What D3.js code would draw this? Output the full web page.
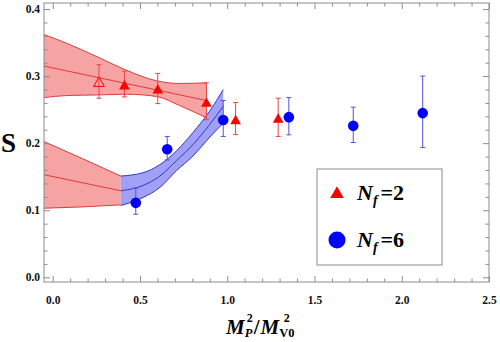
<!DOCTYPE html>
<html>
<head>
<meta charset="utf-8">
<script src="https://cdn.jsdelivr.net/npm/d3@7"></script>
<style>
  body { margin: 0; background: #fff; }
  svg text { font-family: "Liberation Serif", "DejaVu Serif", serif; }
</style>
</head>
<body>
<svg id="chart"></svg>
<script>
const width = 500;
const height = 342;

// lattice points: x = M_P^2/M_V0^2, s = S, lo/hi = error bar ends
const nf2X  = [0.265, 0.411, 0.602, 0.881, 1.048, 1.292];
const nf2S  = [0.290, 0.2855, 0.2795, 0.2595, 0.2337, 0.236];
const nf2Lo = [0.267, 0.269, 0.259, 0.235, 0.2128, 0.210];
const nf2Hi = [0.317, 0.3075, 0.304, 0.290, 0.2606, 0.267];
const nf2Open = [true, false, false, false, false, false];

const nf6X  = [0.476, 0.656, 0.977, 1.353, 1.722, 2.12];
const nf6S  = [0.111, 0.191, 0.2345, 0.2388, 0.2258, 0.2448];
const nf6Lo = [0.094, 0.175, 0.210, 0.2124, 0.201, 0.1934];
const nf6Hi = [0.133, 0.210, 0.2636, 0.268, 0.2537, 0.300];

// fit bands (Nf=2 fit, its extrapolation, Nf=6 fit)
const fit2X   = [-0.05, 0.08, 0.27, 0.42, 0.595, 0.728, 0.88];
const fit2Hi  = [0.362, 0.349, 0.327, 0.309, 0.293, 0.289, 0.290];
const fit2Mid = [0.315, 0.3078, 0.2973, 0.289, 0.2794, 0.272, 0.2636];
const fit2Lo  = [0.268, 0.271, 0.272, 0.273, 0.2696, 0.256, 0.238];

const ext2X   = [-0.05, 0.17, 0.39];
const ext2Hi  = [0.2024, 0.177, 0.151];
const ext2Mid = [0.153, 0.141, 0.129];
const ext2Lo  = [0.103, 0.105, 0.108];

const fit6X   = [0.39, 0.518, 0.614, 0.709, 0.804, 0.900, 0.977];
const fit6Hi  = [0.151, 0.156, 0.168, 0.1885, 0.216, 0.248, 0.280];
const fit6Mid = [0.129, 0.137, 0.151, 0.174, 0.198, 0.228, 0.255];
const fit6Lo  = [0.107, 0.119, 0.134, 0.159, 0.181, 0.209, 0.230];

const xMajor = [0, 0.5, 1.0, 1.5, 2.0, 2.5];
const yMajor = [0, 0.1, 0.2, 0.3, 0.4];

const plot = { left: 44, right: 489, top: 3, bottom: 282 };

const svg = d3.select('#chart').attr('width', width).attr('height', height);

const x = d3.scaleLinear().domain([-0.05, 2.5]).range([plot.left, plot.right]);
const y = d3.scaleLinear().domain([-0.007, 0.409]).range([plot.bottom, plot.top]);

const xMinor = d3.range(0, 2.501, 0.1).filter(v => !xMajor.some(m => Math.abs(m - v) < 1e-6));
const yMinor = d3.range(0, 0.4001, 0.02).filter(v => !yMajor.some(m => Math.abs(m - v) < 1e-6));

svg.append('clipPath').attr('id', 'clip')
  .append('rect')
  .attr('x', plot.left).attr('y', plot.top)
  .attr('width', plot.right - plot.left).attr('height', plot.bottom - plot.top);

const g = svg.append('g').attr('clip-path', 'url(#clip)');

// bands
function band(xs, lo, mid, hi, fill, stroke) {
  const pts = xs.map((v, i) => ({ x: v, lo: lo[i], mid: mid[i], hi: hi[i] }));
  const curve = d3.curveMonotoneX;
  g.append('path').datum(pts)
    .attr('d', d3.area().x(d => x(d.x)).y0(d => y(d.lo)).y1(d => y(d.hi)).curve(curve))
    .attr('fill', fill).attr('stroke', 'none');
  ['lo', 'mid', 'hi'].forEach(k => {
    g.append('path').datum(pts)
      .attr('d', d3.line().x(d => x(d.x)).y(d => y(d[k])).curve(curve))
      .attr('fill', 'none').attr('stroke', stroke).attr('stroke-width', 1);
  });
}

band(fit2X, fit2Lo, fit2Mid, fit2Hi, '#f5a3a3', '#e03a3a');
band(ext2X, ext2Lo, ext2Mid, ext2Hi, '#f5a3a3', '#e03a3a');
band(fit6X, fit6Lo, fit6Mid, fit6Hi, '#a0a0f5', '#3535c8');

// error bars
function errorBars(xs, lo, hi, color) {
  const eb = g.append('g').attr('stroke', color).attr('stroke-width', 1).attr('fill', 'none');
  xs.forEach((v, i) => {
    const cx = x(v);
    eb.append('line').attr('x1', cx).attr('x2', cx).attr('y1', y(lo[i])).attr('y2', y(hi[i]));
    eb.append('line').attr('x1', cx - 2.5).attr('x2', cx + 2.5).attr('y1', y(lo[i])).attr('y2', y(lo[i]));
    eb.append('line').attr('x1', cx - 2.5).attr('x2', cx + 2.5).attr('y1', y(hi[i])).attr('y2', y(hi[i]));
  });
}

errorBars(nf2X, nf2Lo, nf2Hi, '#e84444');
errorBars(nf6X, nf6Lo, nf6Hi, '#5252e0');

const tri = d3.symbol().type(d3.symbolTriangle).size(50);

g.selectAll('.nf2').data(nf2X).enter().append('path')
  .attr('class', 'nf2')
  .attr('d', tri)
  .attr('transform', (d, i) => `translate(${x(d)},${y(nf2S[i]) + 0.5})`)
  .attr('fill', (d, i) => nf2Open[i] ? 'none' : '#ff0000')
  .attr('stroke', '#ff0000')
  .attr('stroke-width', (d, i) => nf2Open[i] ? 1 : 0);

g.selectAll('.nf6').data(nf6X).enter().append('circle')
  .attr('class', 'nf6')
  .attr('cx', d => x(d))
  .attr('cy', (d, i) => y(nf6S[i]))
  .attr('r', 5.3)
  .attr('fill', '#0000ff');

// frame and ticks
const frameColor = '#8c8c8c';
svg.append('rect')
  .attr('x', plot.left).attr('y', plot.top)
  .attr('width', plot.right - plot.left).attr('height', plot.bottom - plot.top)
  .attr('fill', 'none').attr('stroke', frameColor).attr('stroke-width', 1);

function ticks(axisFn, scale, values, size, tx, ty, labels) {
  const ax = axisFn(scale).tickValues(values).tickSize(size).tickPadding(5)
    .tickFormat(labels ? d3.format('.1f') : '');
  const a = svg.append('g').attr('transform', `translate(${tx},${ty})`).call(ax);
  a.select('.domain').remove();
  a.selectAll('line').attr('stroke', frameColor);
  a.selectAll('text')
    .attr('font-size', 11.5).attr('font-weight', 'bold').attr('fill', '#111');
  return a;
}

ticks(d3.axisBottom, x, xMajor, -6, 0, plot.bottom, true).selectAll('text').attr('dy', '1.5em');
ticks(d3.axisBottom, x, xMinor, -3.5, 0, plot.bottom, false);
ticks(d3.axisTop, x, xMajor, -6, 0, plot.top, false);
ticks(d3.axisTop, x, xMinor, -3.5, 0, plot.top, false);
ticks(d3.axisLeft, y, yMajor, -6, plot.left, 0, true).selectAll('text').attr('x', -4);
ticks(d3.axisLeft, y, yMinor, -3.5, plot.left, 0, false);
ticks(d3.axisRight, y, yMajor, -6, plot.right, 0, false);
ticks(d3.axisRight, y, yMinor, -3.5, plot.right, 0, false);

// axis titles
svg.append('text')
  .attr('x', 8.5).attr('y', 152)
  .attr('text-anchor', 'middle')
  .attr('font-size', 27).attr('font-weight', 'bold')
  .text('S');

// M_P^2 / M_V0^2, laid out piece by piece so the scripts stack
const xt = svg.append('g').attr('font-weight', 'bold');
const base = 334;
function piece(txt, px, py, size, italic) {
  const t = xt.append('text').attr('x', px).attr('y', py).attr('font-size', size)
    .attr('font-style', italic ? 'italic' : 'normal').text(txt);
  return t.node().getComputedTextLength();
}
let cx = 226;
cx += piece('M', cx, base, 21, true);
const sup1 = piece('2', cx + 2, base - 12, 12, false);
const sub1 = piece('P', cx, base + 3, 12.5, true);
cx += Math.max(sup1 + 2, sub1) + 1;
cx += piece('/', cx, base, 21, false) + 1;
cx += piece('M', cx, base, 21, true);
const sub2W = piece('V0', cx, base + 3, 12.5, false);
piece('2', cx + sub2W / 2 - 3, base - 12, 12, false);

// legend
const lg = svg.append('g');
lg.append('rect')
  .attr('x', 317).attr('y', 169).attr('width', 125).attr('height', 96)
  .attr('fill', '#fff').attr('stroke', frameColor).attr('stroke-width', 1);

const legendItems = [
  { label: '2', cy: 193, base: 200, mark: 'tri' },
  { label: '6', cy: 240, base: 247, mark: 'circle' }
];
legendItems.forEach(it => {
  if (it.mark === 'tri') {
    lg.append('path').attr('d', d3.symbol().type(d3.symbolTriangle).size(80))
      .attr('transform', `translate(337,${it.cy + 1})`).attr('fill', '#ff0000');
  } else {
    lg.append('circle').attr('cx', 337).attr('cy', it.cy).attr('r', 8.5).attr('fill', '#0000ff');
  }
  const t = lg.append('text').attr('y', it.base).attr('font-weight', 'bold');
  t.append('tspan').attr('x', 357).attr('font-size', 22).attr('font-style', 'italic').text('N');
  t.append('tspan').attr('font-size', 14).attr('font-style', 'italic').attr('dy', 5).text('f');
  t.append('tspan').attr('font-size', 22).attr('dy', -5).attr('dx', 3).text('=' + it.label);
});
</script>
</body>
</html>
